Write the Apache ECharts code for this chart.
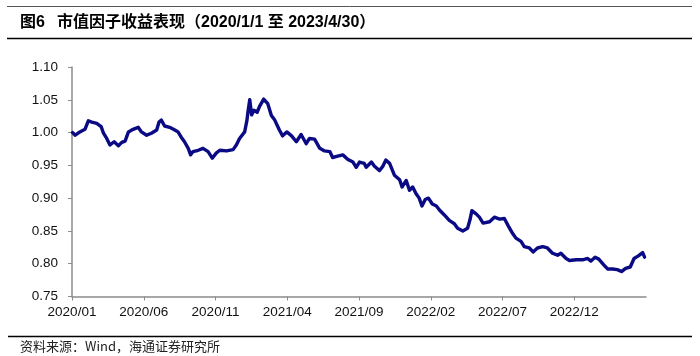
<!DOCTYPE html>
<html>
<head>
<meta charset="utf-8">
<script src="https://cdn.jsdelivr.net/npm/echarts@6/dist/echarts.min.js"></script>
<style>html,body{margin:0;padding:0;background:#fff;}#c{width:700px;height:356px;}</style>
</head>
<body>
<div id="c"></div>
<script>
var titleNum = '图6';
var titleText = '市值因子收益表现（2020/1/1 至 2023/4/30）';
var sourceText = '资料来源：Wind，海通证券研究所';
var yTicks = [0.75, 0.80, 0.85, 0.90, 0.95, 1.00, 1.05, 1.10];
var xTickLabels = ['2020/01','2020/06','2020/11','2021/04','2021/09','2022/02','2022/07','2022/12'];
var dates = [
'2020-01-02','2020-01-08','2020-01-18','2020-01-29','2020-02-05','2020-02-12','2020-02-22','2020-03-02','2020-03-07','2020-03-14',
'2020-03-21','2020-03-30','2020-04-08','2020-04-15','2020-04-22','2020-04-29','2020-05-09','2020-05-20','2020-05-27','2020-06-07',
'2020-06-17','2020-06-28','2020-07-03','2020-07-08','2020-07-15','2020-07-26','2020-08-06','2020-08-13','2020-08-20','2020-08-27',
'2020-09-04','2020-09-09','2020-09-14','2020-09-25','2020-10-05','2020-10-16','2020-10-25','2020-11-03','2020-11-10','2020-11-24',
'2020-12-08','2020-12-15','2020-12-22','2021-01-02','2021-01-07','2021-01-09','2021-01-13','2021-01-17','2021-01-22','2021-01-29',
'2021-02-03','2021-02-11','2021-02-19','2021-02-26','2021-03-05','2021-03-15','2021-03-22','2021-03-31','2021-04-10','2021-04-20',
'2021-04-30','2021-05-11','2021-05-18','2021-05-29','2021-06-09','2021-06-19','2021-06-30','2021-07-06','2021-07-17','2021-07-28',
'2021-08-08','2021-08-19','2021-08-26','2021-09-02','2021-09-12','2021-09-16','2021-09-27','2021-10-03','2021-10-14','2021-10-21',
'2021-10-28','2021-11-05','2021-11-15','2021-11-26','2021-12-01','2021-12-10','2021-12-17','2021-12-24','2021-12-31','2022-01-07',
'2022-01-13','2022-01-20','2022-01-27','2022-02-04','2022-02-12','2022-02-18','2022-02-28','2022-03-10','2022-03-21','2022-03-28',
'2022-04-08','2022-04-18','2022-04-23','2022-04-27','2022-05-06','2022-05-13','2022-05-21','2022-06-04','2022-06-14','2022-06-25',
'2022-07-05','2022-07-14','2022-07-23','2022-07-30','2022-08-10','2022-08-17','2022-08-28','2022-09-05','2022-09-14','2022-09-25',
'2022-10-05','2022-10-16','2022-10-27','2022-11-03','2022-11-14','2022-11-21','2022-12-05','2022-12-19','2022-12-30','2023-01-06',
'2023-01-15','2023-01-23','2023-02-03','2023-02-10','2023-02-20','2023-03-01','2023-03-10','2023-03-19','2023-03-29','2023-04-06',
'2023-04-15','2023-04-24','2023-04-28'
];
var values = [
1.000,0.996,1.001,1.005,1.018,1.016,1.014,1.009,0.999,0.991,
0.981,0.986,0.980,0.985,0.987,1.001,1.005,1.008,1.001,0.996,
0.999,1.004,1.016,1.019,1.010,1.008,1.004,1.001,0.993,0.986,
0.976,0.966,0.971,0.973,0.976,0.971,0.961,0.969,0.973,0.972,
0.974,0.981,0.991,1.001,1.019,1.031,1.050,1.027,1.034,1.031,
1.040,1.051,1.044,1.026,1.019,1.004,0.995,1.001,0.995,0.986,
0.997,0.983,0.991,0.990,0.976,0.972,0.971,0.962,0.964,0.966,
0.959,0.955,0.947,0.955,0.953,0.947,0.955,0.949,0.942,0.948,
0.958,0.953,0.935,0.928,0.917,0.927,0.912,0.917,0.907,0.900,
0.888,0.898,0.900,0.891,0.888,0.882,0.874,0.866,0.861,0.854,
0.850,0.854,0.867,0.881,0.876,0.871,0.862,0.864,0.871,0.868,
0.869,0.857,0.846,0.839,0.834,0.826,0.824,0.818,0.824,0.826,
0.824,0.816,0.813,0.816,0.808,0.805,0.806,0.806,0.808,0.804,
0.810,0.807,0.798,0.792,0.792,0.791,0.788,0.793,0.795,0.808,
0.812,0.817,0.810
];

function monthIndex(s) {
  var p = s.split('-').map(Number);
  var dim = new Date(p[0], p[1], 0).getDate();
  return (p[0] - 2020) * 12 + (p[1] - 1) + (p[2] - 1) / dim;
}
function labelToIndex(l) {
  var p = l.split('/').map(Number);
  return (p[0] - 2020) * 12 + (p[1] - 1);
}
var xTickVals = xTickLabels.map(labelToIndex);
var seriesData = dates.map(function (d, i) { return [monthIndex(d), values[i]]; });

var font = '"Liberation Sans", Arial, "Noto Sans CJK SC", sans-serif';
var chart = echarts.init(document.getElementById('c'), null, {renderer: 'canvas'});
chart.setOption({
  animation: false,
  backgroundColor: '#fff',
  grid: {left: 72, right: 54, top: 67, bottom: 59.5, containLabel: false},
  xAxis: {
    type: 'value', min: 0, max: 40,
    splitLine: {show: false},
    axisLine: {lineStyle: {color: '#8c8c8c', width: 1.5}},
    axisTick: {customValues: xTickVals, length: 4, lineStyle: {color: '#8c8c8c'}},
    axisLabel: {
      customValues: xTickVals, margin: 9,
      color: '#111', fontSize: 13.5, fontFamily: font,
      formatter: function (v) {
        var i = xTickVals.indexOf(Math.round(v));
        return i >= 0 ? xTickLabels[i] : '';
      }
    }
  },
  yAxis: {
    type: 'value', min: 0.75, max: 1.10, interval: 0.05,
    splitLine: {show: false},
    axisLine: {show: true, lineStyle: {color: '#8c8c8c', width: 1.5}},
    axisTick: {show: true, length: 4, lineStyle: {color: '#8c8c8c'}},
    axisLabel: {
      customValues: yTicks, margin: 14, color: '#111', fontSize: 13.5, fontFamily: font,
      formatter: function (v) { return v.toFixed(2); }
    }
  },
  series: [{
    type: 'line', data: seriesData, showSymbol: false, smooth: false,
    lineStyle: {color: '#0a0a85', width: 3.4, join: 'round', cap: 'round'}
  }],
  graphic: [
    {type: 'line', shape: {x1: 7, y1: 6.5, x2: 692, y2: 6.5}, style: {stroke: '#555', lineWidth: 1}},
    {type: 'text', left: 20, top: 15, style: {text: titleNum, fill: '#000', font: 'bold 16px ' + font}},
    {type: 'text', left: 57, top: 15, style: {text: titleText, fill: '#000', font: 'bold 16px ' + font}},
    {type: 'line', shape: {x1: 7, y1: 38.5, x2: 692, y2: 38.5}, style: {stroke: '#000', lineWidth: 1.5}},
    {type: 'line', shape: {x1: 8, y1: 336.5, x2: 692, y2: 336.5}, style: {stroke: '#000', lineWidth: 1.5}},
    {type: 'text', left: 20, top: 340, style: {text: sourceText, fill: '#222', font: '13px "Noto Sans CJK SC", ' + font}}
  ]
});
</script>
</body>
</html>
